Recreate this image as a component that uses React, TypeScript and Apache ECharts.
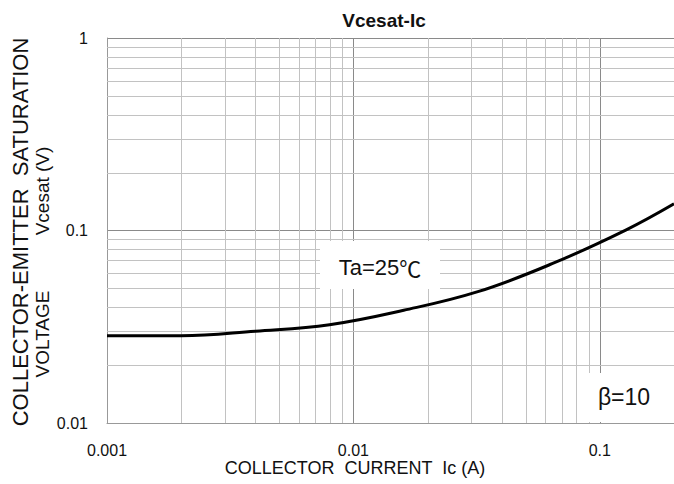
import React, { useEffect, useRef } from "react";
import * as echarts from "echarts";

const IC = [0.001, 0.002, 0.004, 0.008, 0.016, 0.032, 0.064, 0.128, 0.2];
const VCE = [0.0284, 0.0284, 0.03, 0.0324, 0.0385, 0.0481, 0.0672, 0.1008, 0.1376];
const X_MIN = 0.001;
const X_MAX = 0.2;
const Y_MIN = 0.01;
const Y_MAX = 1;
const X_MINOR = [0.002, 0.003, 0.004, 0.005, 0.006, 0.007, 0.008, 0.009, 0.02, 0.03, 0.04, 0.05, 0.06, 0.07, 0.08, 0.09];
const Y_MINOR = [0.02, 0.03, 0.04, 0.05, 0.06, 0.07, 0.08, 0.09, 0.2, 0.3, 0.4, 0.5, 0.6, 0.7, 0.8, 0.9];
const TITLE = "Vcesat-Ic";
const X_NAME = "COLLECTOR  CURRENT  Ic (A)";
const Y_NAME_1 = "COLLECTOR-EMITTER  SATURATION";
const Y_NAME_2A = "VOLTAGE";
const Y_NAME_2B = "Vcesat (V)";
const NOTE_T_A = "Ta=25";
const NOTE_T_B = "℃";
const NOTE_B = "β=10";

const FONT = "'Liberation Sans', Arial, sans-serif";
const MINOR_COLOR = "#c2c2c2";

const fmt = (v: number) => {
  const l = Math.log10(v);
  if (Math.abs(l - Math.round(l)) > 1e-6) return "";
  return String(Number(v.toPrecision(3)));
};

const crisp = (n: number) => Math.round(n) + 0.5;

export default function App() {
  const ref = useRef<HTMLDivElement>(null);
  useEffect(() => {
    if (!ref.current) return;
    const chart = echarts.init(ref.current, undefined, { renderer: "svg" });
    chart.setOption({
      animation: false,
      backgroundColor: "#fff",
      grid: { left: 107, top: 38, right: 0, bottom: 61 },
      xAxis: {
        type: "log",
        logBase: 10,
        min: X_MIN,
        max: X_MAX,
        axisLine: { show: true, lineStyle: { color: "#999", width: 1 } },
        axisTick: { show: false },
        splitLine: { show: true, lineStyle: { color: "#8a8a8a", width: 1 } },
        axisLabel: {
          formatter: fmt,
          showMaxLabel: false,
          margin: 19,
          color: "#111",
          fontSize: 16,
          fontFamily: FONT,
        },
      },
      yAxis: {
        type: "log",
        logBase: 10,
        min: Y_MIN,
        max: Y_MAX,
        axisLine: { show: true, lineStyle: { color: "#999", width: 1 } },
        axisTick: { show: false },
        splitLine: { show: true, lineStyle: { color: "#8a8a8a", width: 1 } },
        axisLabel: {
          formatter: fmt,
          margin: 19,
          color: "#111",
          fontSize: 16,
          fontFamily: FONT,
        },
      },
      series: [
        {
          type: "custom",
          z: 1,
          silent: true,
          data: X_MINOR.map((v) => [v, Y_MIN]),
          encode: { x: 0, y: 1 },
          renderItem: (params: any, api: any) => {
            const v = api.value(0);
            const p1 = api.coord([v, Y_MIN]);
            const p2 = api.coord([v, Y_MAX]);
            return {
              type: "line",
              shape: { x1: crisp(p1[0]), y1: p1[1], x2: crisp(p2[0]), y2: p2[1] },
              style: { stroke: MINOR_COLOR, lineWidth: 1 },
            };
          },
        },
        {
          type: "custom",
          z: 1,
          silent: true,
          data: Y_MINOR.map((v) => [X_MIN, v]),
          encode: { x: 0, y: 1 },
          renderItem: (params: any, api: any) => {
            const v = api.value(1);
            const p1 = api.coord([X_MIN, v]);
            const p2 = api.coord([X_MAX, v]);
            return {
              type: "line",
              shape: { x1: p1[0], y1: crisp(p1[1]), x2: p2[0], y2: crisp(p2[1]) },
              style: { stroke: MINOR_COLOR, lineWidth: 1 },
            };
          },
        },
        {
          type: "line",
          z: 5,
          data: IC.map((x, i) => [x, VCE[i]]),
          smooth: 0.4,
          showSymbol: false,
          lineStyle: { color: "#000", width: 3 },
        },
      ],
      graphic: [
        {
          type: "text",
          z: 100,
          x: 384,
          y: 20,
          style: {
            text: TITLE,
            fill: "#111",
            font: `bold 19px 'Liberation Sans Narrow', 'Arial Narrow', ${FONT}`,
            align: "center",
            verticalAlign: "middle",
          },
        },
        {
          type: "rect",
          z: 90,
          shape: { x: 320, y: 241, width: 120, height: 48 },
          style: { fill: "#fff" },
        },
        {
          type: "text",
          z: 100,
          x: 380,
          y: 267,
          style: {
            text: `{a|${NOTE_T_A}}{b|${NOTE_T_B}}`,
            align: "center",
            verticalAlign: "middle",
            rich: {
              a: { fill: "#111", fontSize: 22, fontFamily: FONT },
              b: { fill: "#111", fontSize: 22, fontFamily: "'Noto Sans CJK SC', sans-serif" },
            },
          },
        },
        {
          type: "rect",
          z: 90,
          shape: { x: 583, y: 373, width: 91, height: 49 },
          style: { fill: "#fff" },
        },
        {
          type: "text",
          z: 100,
          x: 624,
          y: 397,
          style: {
            text: NOTE_B,
            fill: "#111",
            font: `23px ${FONT}`,
            align: "center",
            verticalAlign: "middle",
          },
        },
        {
          type: "text",
          z: 100,
          x: 355,
          y: 468,
          style: {
            text: X_NAME,
            fill: "#111",
            font: `18px ${FONT}`,
            align: "center",
            verticalAlign: "middle",
          },
        },
        {
          type: "text",
          z: 100,
          x: 20,
          y: 232,
          rotation: Math.PI / 2,
          style: {
            text: Y_NAME_1,
            fill: "#111",
            font: `22px ${FONT}`,
            align: "center",
            verticalAlign: "middle",
          },
        },
        {
          type: "text",
          z: 100,
          x: 42,
          y: 334,
          rotation: Math.PI / 2,
          style: {
            text: Y_NAME_2A,
            fill: "#111",
            font: `19px ${FONT}`,
            align: "center",
            verticalAlign: "middle",
          },
        },
        {
          type: "text",
          z: 100,
          x: 42,
          y: 191,
          rotation: Math.PI / 2,
          style: {
            text: Y_NAME_2B,
            fill: "#111",
            font: `19px ${FONT}`,
            align: "center",
            verticalAlign: "middle",
          },
        },
      ],
    });
    return () => chart.dispose();
  }, []);
  return (
    <div
      ref={ref}
      style={{ position: "absolute", left: 0, top: 0, width: 674, height: 484 }}
    />
  );
}
